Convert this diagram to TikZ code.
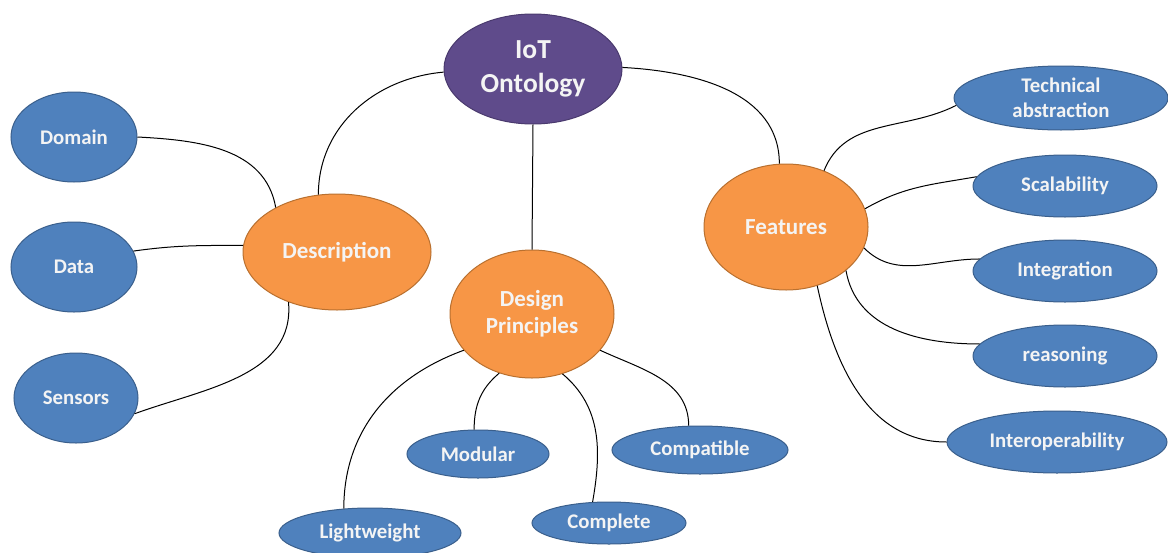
\documentclass[tikz,border=0pt]{standalone}
\usepackage{fontspec}
\setmainfont{Carlito}
\usetikzlibrary{shapes.geometric}
\definecolor{bluefill}{HTML}{4F81BD}
\definecolor{blueline}{HTML}{3A5F8C}
\definecolor{orangefill}{HTML}{F79646}
\definecolor{orangeline}{HTML}{B9702F}
\definecolor{purplefill}{HTML}{5F4B8B}
\definecolor{purpleline}{HTML}{4A3A6E}
\definecolor{txt}{HTML}{F4F4F4}
\begin{document}
\begin{tikzpicture}[x=1pt,y=1pt,
  ell/.style 2 args={ellipse, minimum width=#1pt, minimum height=#2pt, inner sep=0pt,
     line width=1pt, align=center, text=txt},
  bluebub/.style={fill=bluefill, draw=blueline, font=\bfseries\fontsize{20.8}{25}\selectfont},
  orangebub/.style={fill=orangefill, draw=orangeline, font=\bfseries\fontsize{23}{27}\selectfont},
  purplebub/.style={fill=purplefill, draw=purpleline, font=\bfseries\fontsize{27.5}{34}\selectfont},
  link/.style={draw=black, line width=1pt}]
\fill[white] (0,-552) rectangle (1168,0);
\useasboundingbox (0,-552) rectangle (1168,0);

\node[ell={178}{110}, purplebub] (onto) at (533,-69) {IoT\\Ontology};
\node[ell={188}{116}, orangebub] (desc) at (337,-252) {Description};
\node[ell={164}{128}, orangebub] (design) at (532,-314) {Design\\Principles};
\node[ell={164}{126}, orangebub] (feat) at (786,-227) {Features};

\node[ell={126}{90}, bluebub] (domain) at (74,-137) {Domain};
\node[ell={126}{90}, bluebub] (data) at (74,-267) {Data};
\node[ell={124}{90}, bluebub] (sensors) at (76,-398) {Sensors};

\node[ell={182}{50}, bluebub] (light) at (370,-533) {Lightweight};
\node[ell={142}{48}, bluebub] (modular) at (478,-454) {Modular};
\node[ell={154}{42}, bluebub] (complete) at (609,-523) {Complete};
\node[ell={176}{48}, bluebub] (compat) at (700,-450) {Compatible};

\node[ell={214}{64}, bluebub] (tech) at (1061,-98) {Technical\\abstraction};
\node[ell={184}{62}, bluebub] (scal) at (1065,-186) {Scalability};
\node[ell={184}{62}, bluebub] (integ) at (1065,-271) {Integration};
\node[ell={184}{62}, bluebub] (reason) at (1065,-356) {reasoning};
\node[ell={220}{62}, bluebub] (interop) at (1057,-442) {Interoperability};

\draw[link] (onto.182) to[out=185,in=90] (desc.108);
\draw[link] (onto.1) to[out=-3,in=90] (feat.96);
\draw[link] (onto.south) -- (design.north);

\draw[link] (domain.0) to[out=-3,in=100] (desc.144);
\draw[link] (data.15) to[out=8,in=180] (desc.176);
\draw[link] (sensors.-15) to[out=20,in=-85] (desc.-134);

\draw[link] (design.208) to[out=200,in=90] (light.137);
\draw[link] (design.241) to[out=220,in=90] (modular.99);
\draw[link] (design.-63) to[out=-40,in=80] (complete.128);
\draw[link] (design.-28) to[out=-25,in=90] (compat.115);

\draw[link] (feat.56) to[out=68,in=207] (tech.184);
\draw[link] (feat.13) to[out=30,in=190] (scal.174);
\draw[link] (feat.-15) to[out=-45,in=180] (integ.172);
\draw[link] (feat.-36) to[out=-80,in=180] (reason.172);
\draw[link] (feat.-62) to[out=-78,in=180] (interop.180);
\end{tikzpicture}
\end{document}
